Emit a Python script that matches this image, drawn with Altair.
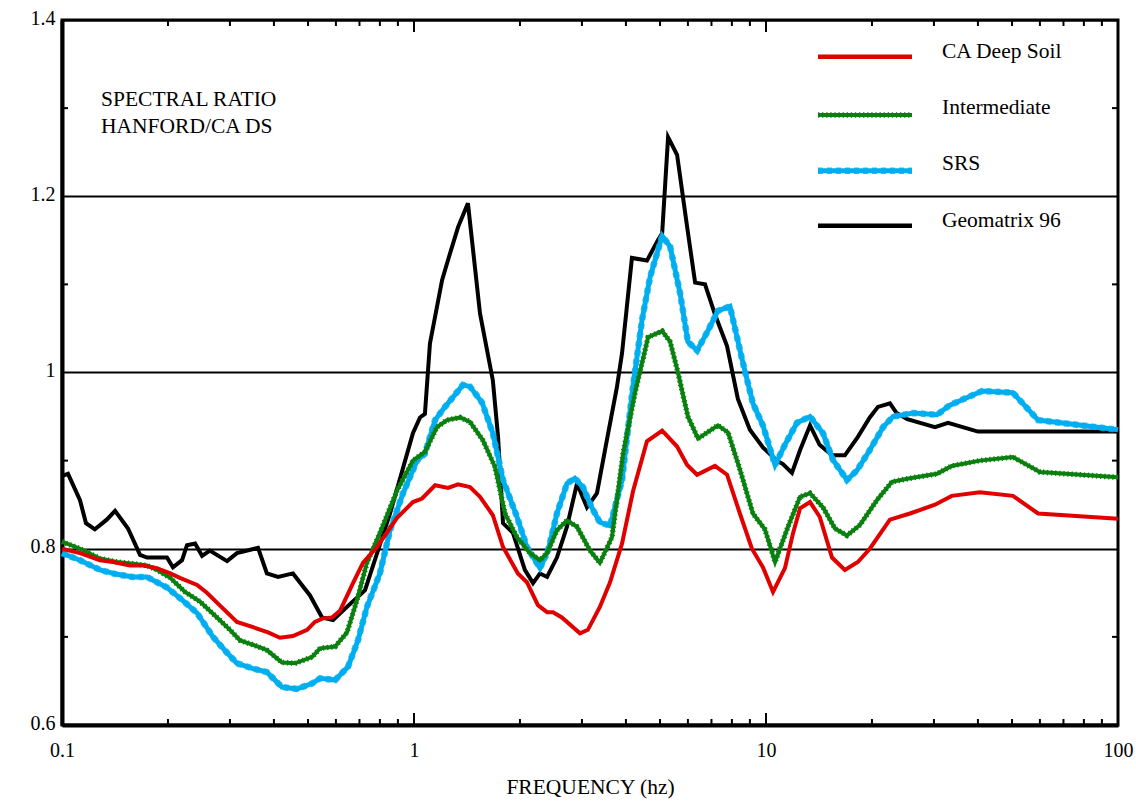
import altair as alt
import pandas as pd

# ---------------- data ----------------
RED_F = [0.1, 0.1125, 0.1282, 0.1396, 0.156, 0.170, 0.186, 0.203, 0.2163, 0.242, 0.258, 0.277,
         0.314, 0.349, 0.385, 0.416, 0.453, 0.497, 0.523, 0.551, 0.585, 0.617, 0.671, 0.716,
         0.785, 0.895, 0.993, 1.054, 1.148, 1.250, 1.334, 1.442, 1.540, 1.675, 1.790, 1.973,
         2.093, 2.249, 2.388, 2.483, 2.630, 2.962, 3.119, 3.373, 3.605, 3.90, 4.188, 4.59,
         5.07, 5.59, 5.97, 6.37, 7.16, 7.75, 8.43, 9.12, 9.80, 10.47, 11.32, 11.94, 12.50,
         13.34, 14.22, 15.40, 16.75, 18.24, 19.72, 22.49, 25.64, 30.2, 33.7, 40.5, 50.3,
         59.3, 100]
RED_V = [0.800, 0.795, 0.787, 0.785, 0.781, 0.781, 0.778, 0.772, 0.767, 0.759, 0.750, 0.738,
         0.717, 0.711, 0.705, 0.699, 0.701, 0.708, 0.717, 0.721, 0.722, 0.730, 0.761, 0.784,
         0.802, 0.835, 0.853, 0.857, 0.872, 0.869, 0.873, 0.870, 0.859, 0.838, 0.802, 0.772,
         0.762, 0.736, 0.728, 0.728, 0.722, 0.704, 0.708, 0.734, 0.762, 0.806, 0.865, 0.922,
         0.934, 0.916, 0.895, 0.884, 0.894, 0.884, 0.840, 0.800, 0.779, 0.751, 0.778, 0.818,
         0.846, 0.853, 0.836, 0.790, 0.776, 0.785, 0.800, 0.833, 0.840, 0.850, 0.860, 0.864,
         0.860, 0.840, 0.834]

GREEN_F = [0.1, 0.1125, 0.1282, 0.1432, 0.159, 0.1744, 0.186, 0.203, 0.2236, 0.2466, 0.2756,
           0.300, 0.3206, 0.349, 0.382, 0.4217, 0.459, 0.513, 0.541, 0.597, 0.645, 0.689,
           0.735, 0.800, 0.895, 0.993, 1.074, 1.162, 1.241, 1.352, 1.442, 1.570, 1.698,
           1.814, 1.962, 2.136, 2.280, 2.388, 2.547, 2.72, 2.904, 3.162, 3.373, 3.651, 3.926,
           4.246, 4.624, 5.07, 5.34, 5.623, 6.0, 6.41, 7.30, 7.80, 8.43, 9.18, 9.93, 10.61,
           11.55, 12.50, 13.34, 14.52, 15.70, 16.98, 18.49, 20.65, 22.8, 25.64, 30.6, 33.7,
           40.5, 50.3, 60.0, 100]
GREEN_V = [0.808, 0.800, 0.789, 0.785, 0.783, 0.781, 0.776, 0.767, 0.751, 0.740, 0.722,
           0.708, 0.696, 0.691, 0.685, 0.671, 0.670, 0.677, 0.687, 0.689, 0.705, 0.742,
           0.784, 0.818, 0.866, 0.900, 0.910, 0.938, 0.946, 0.949, 0.944, 0.923, 0.893,
           0.840, 0.813, 0.795, 0.787, 0.795, 0.821, 0.832, 0.825, 0.798, 0.784, 0.813, 0.908,
           0.977, 1.040, 1.047, 1.035, 1.000, 0.950, 0.925, 0.940, 0.932, 0.890, 0.840, 0.822,
           0.785, 0.825, 0.859, 0.863, 0.847, 0.823, 0.815, 0.827, 0.855, 0.876, 0.880, 0.885,
           0.894, 0.900, 0.904, 0.887, 0.881]

BLUE_F = [0.1, 0.1125, 0.1282, 0.1432, 0.159, 0.1744, 0.1987, 0.2193, 0.242, 0.2685, 0.2944,
          0.314, 0.349, 0.382, 0.4217, 0.4655, 0.513, 0.541, 0.597, 0.6494, 0.693, 0.735,
          0.800, 0.855, 0.931, 1.020, 1.074, 1.148, 1.225, 1.291, 1.377, 1.442, 1.560, 1.675,
          1.790, 1.962, 2.093, 2.280, 2.404, 2.547, 2.72, 2.864, 3.020, 3.206, 3.373, 3.605,
          3.90, 4.188, 4.446, 4.683, 5.07, 5.34, 5.70, 6.0, 6.37, 6.79, 7.30, 7.90, 8.55,
          9.18, 9.80, 10.61, 11.32, 12.25, 13.34, 14.52, 15.49, 16.98, 18.14, 19.72, 21.5,
          22.96, 26.2, 30.6, 33.3, 41.1, 50.3, 59.3, 100]
BLUE_V = [0.795, 0.787, 0.776, 0.771, 0.768, 0.768, 0.756, 0.742, 0.727, 0.700, 0.682,
          0.670, 0.664, 0.660, 0.643, 0.641, 0.647, 0.653, 0.651, 0.666, 0.696, 0.734,
          0.772, 0.821, 0.863, 0.900, 0.908, 0.946, 0.961, 0.972, 0.986, 0.984, 0.966, 0.931,
          0.878, 0.836, 0.802, 0.778, 0.798, 0.840, 0.874, 0.880, 0.870, 0.846, 0.830, 0.826,
          0.878, 0.984, 1.060, 1.108, 1.155, 1.143, 1.090, 1.035, 1.025, 1.045, 1.070, 1.075,
          1.015, 0.965, 0.940, 0.895, 0.918, 0.943, 0.950, 0.931, 0.901, 0.878, 0.889, 0.912,
          0.938, 0.950, 0.954, 0.952, 0.963, 0.979, 0.977, 0.946, 0.935]

BLACK_F = [0.1007, 0.104, 0.1125, 0.117, 0.124, 0.134, 0.1415, 0.154, 0.1666, 0.1744, 0.1987,
           0.2066, 0.2193, 0.2265, 0.2388, 0.25, 0.263, 0.2944, 0.314, 0.3605, 0.382, 0.411,
           0.453, 0.5065, 0.548, 0.589, 0.645, 0.726, 0.855, 0.993, 1.04, 1.074, 1.11, 1.202,
           1.25, 1.334, 1.423, 1.54, 1.675, 1.733, 1.79, 1.91, 2.065, 2.178, 2.28, 2.388,
           2.547, 2.72, 2.904, 3.1, 3.31, 3.53, 3.77, 3.9, 4.16, 4.59, 4.93, 5.07, 5.27, 5.59,
           5.97, 6.29, 6.71, 7.16, 7.75, 8.32, 9.0, 9.8, 10.74, 11.17, 11.85, 12.5, 13.34,
           14.2, 15.4, 16.75, 18.24, 19.72, 20.8, 22.5, 23.5, 25.2, 30.2, 32.9, 40.0, 100]
BLACK_V = [0.883, 0.885, 0.855, 0.829, 0.822, 0.833, 0.843, 0.823, 0.793, 0.790, 0.790,
           0.779, 0.787, 0.804, 0.806, 0.792, 0.798, 0.786, 0.795, 0.801, 0.772, 0.768,
           0.772, 0.747, 0.722, 0.719, 0.734, 0.753, 0.840, 0.931, 0.949, 0.953, 1.033, 1.105,
           1.128, 1.165, 1.192, 1.067, 0.991, 0.927, 0.829, 0.818, 0.776, 0.761, 0.772, 0.768,
           0.790, 0.825, 0.874, 0.847, 0.863, 0.923, 0.983, 1.022, 1.130, 1.127, 1.150, 1.158,
           1.267, 1.247, 1.165, 1.102, 1.100, 1.066, 1.030, 0.970, 0.935, 0.915, 0.900, 0.896,
           0.886, 0.912, 0.940, 0.918, 0.906, 0.906, 0.927, 0.949, 0.961, 0.965, 0.954, 0.947,
           0.938, 0.943, 0.933, 0.933]

SERIES = ["CA Deep Soil", "Intermediate", "SRS", "Geomatrix 96"]
COLORS = {"CA Deep Soil": "#E00000", "Intermediate": "#0A800F",
          "SRS": "#00AEEF", "Geomatrix 96": "#000000"}

X_MAJOR = [0.1, 1, 10, 100]
X_MINOR = [0.2, 0.3, 0.4, 0.5, 0.6, 0.7, 0.8, 0.9, 2, 3, 4, 5, 6, 7, 8, 9,
           20, 30, 40, 50, 60, 70, 80, 90]
X_MID = [1, 10]
Y_MAJOR = [0.6, 0.8, 1.0, 1.2, 1.4]
Y_MINOR = [0.7, 0.9, 1.1, 1.3]

# ---------------- build table ----------------
rows = []
for name, fs, vs in [("CA Deep Soil", RED_F, RED_V), ("Intermediate", GREEN_F, GREEN_V),
                     ("SRS", BLUE_F, BLUE_V), ("Geomatrix 96", BLACK_F, BLACK_V)]:
    for i, (f, v) in enumerate(zip(fs, vs)):
        rows.append({"series": name, "idx": i, "freq": f, "value": v})
df = pd.DataFrame(rows)

W, H = 1056, 705
FONT = "'Liberation Serif', 'Times New Roman', 'DejaVu Serif', serif"
FS = 20      # tick labels
FT = 21.5    # other text

xscale = alt.Scale(type="log", domain=[0.1, 100])
yscale = alt.Scale(domain=[0.6, 1.4])

x_axis = alt.Axis(values=X_MAJOR, format="~g", ticks=False, grid=False,
                  domainColor="black", domainWidth=4, labelFont=FONT, labelFontSize=FS,
                  labelColor="black", labelPadding=15, labelFlush=False,
                  title="FREQUENCY (hz)", titleFont=FONT, titleFontSize=FT,
                  titleFontWeight="normal", titleColor="black", titlePadding=16)
y_axis = alt.Axis(values=Y_MAJOR, format="~g", ticks=False, grid=True,
                  gridColor="black", gridWidth=2, gridOpacity=1,
                  domainColor="black", domainWidth=4, labelFont=FONT, labelFontSize=FS,
                  labelColor="black", labelPadding=7, labelOffset=-2, labelFlush=False,
                  title=None)

X = alt.X("freq:Q", scale=xscale, axis=x_axis)
Y = alt.Y("value:Q", scale=yscale, axis=y_axis)

base = alt.Chart(df)


def series_layer(name, **mk):
    return base.transform_filter(alt.datum.series == name).mark_line(
        color=COLORS[name], **mk).encode(x=X, y=Y, order="idx:Q")


black = series_layer("Geomatrix 96", strokeWidth=4)
blue = series_layer("SRS", strokeWidth=5)
blue_d = series_layer("SRS", strokeWidth=6.5, strokeDash=[5, 4], opacity=0.8)
green = series_layer("Intermediate", strokeWidth=4)
green_d = series_layer("Intermediate", strokeWidth=5.5, strokeDash=[1.3, 2.8])
red = series_layer("CA Deep Soil", strokeWidth=4)

# ---------------- ticks (inside the frame) ----------------
xmin_df = pd.DataFrame({"freq": X_MINOR})
xmid_df = pd.DataFrame({"freq": X_MID})
ymin_df = pd.DataFrame({"value": Y_MINOR})

tick_b = alt.Chart(xmin_df).mark_rule(color="black", strokeWidth=2).encode(
    x=X, y=alt.value(H), y2=alt.value(H - 6))
tick_t = alt.Chart(xmin_df).mark_rule(color="black", strokeWidth=2).encode(
    x=X, y=alt.value(0), y2=alt.value(6))
tick_bm = alt.Chart(xmid_df).mark_rule(color="black", strokeWidth=2).encode(
    x=X, y=alt.value(H), y2=alt.value(H - 12))
tick_tm = alt.Chart(xmid_df).mark_rule(color="black", strokeWidth=2).encode(
    x=X, y=alt.value(0), y2=alt.value(12))
tick_l = alt.Chart(ymin_df).mark_rule(color="black", strokeWidth=2).encode(
    y=Y, x=alt.value(0), x2=alt.value(6))
tick_r = alt.Chart(ymin_df).mark_rule(color="black", strokeWidth=2).encode(
    y=Y, x=alt.value(W), x2=alt.value(W - 6))

# ---------------- annotation ----------------
ann = alt.Chart(pd.DataFrame({"t": ["SPECTRAL RATIO", "HANFORD/CA DS"],
                              "py": [80, 107]})).mark_text(
    align="left", baseline="middle", font=FONT, fontSize=FT, color="black").encode(
    x=alt.value(39), y=alt.Y("py:Q", scale=None, axis=None), text="t:N")

# ---------------- legend ----------------
LEG_LINE_Y = [36.7, 95, 150.7, 205.7]
LEG_TEXT_Y = [32.3, 88, 144, 200.7]
leg_layers = []
for name, ly, ty in zip(SERIES, LEG_LINE_Y, LEG_TEXT_Y):
    one = alt.Chart(pd.DataFrame({"s": [name]}))
    if name == "Intermediate":
        leg_layers.append(one.mark_rule(color=COLORS[name], strokeWidth=4).encode(
            x=alt.value(756), x2=alt.value(850), y=alt.value(ly)))
        leg_layers.append(one.mark_rule(color=COLORS[name], strokeWidth=5.5,
                                        strokeDash=[1.3, 2.8]).encode(
            x=alt.value(756), x2=alt.value(850), y=alt.value(ly)))
    elif name == "SRS":
        leg_layers.append(one.mark_rule(color=COLORS[name], strokeWidth=5).encode(
            x=alt.value(756), x2=alt.value(850), y=alt.value(ly)))
        leg_layers.append(one.mark_rule(color=COLORS[name], strokeWidth=6.5,
                                        strokeDash=[5, 4], opacity=0.8).encode(
            x=alt.value(756), x2=alt.value(850), y=alt.value(ly)))
    else:
        leg_layers.append(one.mark_rule(color=COLORS[name], strokeWidth=4.5).encode(
            x=alt.value(756), x2=alt.value(850), y=alt.value(ly)))
    leg_layers.append(one.mark_text(align="left", baseline="middle", font=FONT,
                                    fontSize=FT, color="black").encode(
        x=alt.value(880), y=alt.value(ty), text="s:N"))

chart = alt.layer(
    black, blue, blue_d, green, green_d, red,
    tick_b, tick_t, tick_bm, tick_tm, tick_l, tick_r,
    ann, *leg_layers
).properties(
    width=W, height=H,
    autosize="none",
    padding={"left": 62, "top": 20, "right": 18, "bottom": 79},
    background="white",
).configure_view(stroke="black", strokeWidth=3)

chart.save("out.html", embed_options={"renderer": "svg", "actions": False})
